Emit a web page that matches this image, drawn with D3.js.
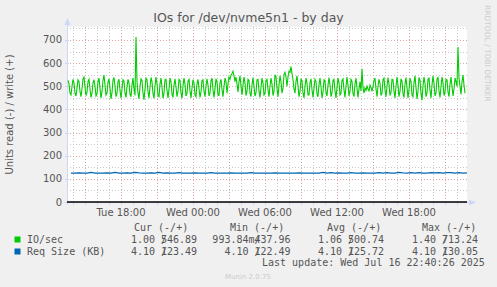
<!DOCTYPE html>
<html><head><meta charset="utf-8">
<script src="https://cdn.jsdelivr.net/npm/d3@7"></script>
<style>
html,body{margin:0;padding:0;background:#f0f0f0;}
svg{display:block;}
text{font-family:"DejaVu Sans",sans-serif;}
.mono{font-family:"DejaVu Sans Mono",monospace;font-size:10px;fill:#555;}
</style></head><body>
<script>
// ---- data ----
const title = "IOs for /dev/nvme5n1 - by day";
const yLabel = "Units read (-) / write (+)";
const yTicks = [0, 100, 200, 300, 400, 500, 600, 700];
const xTickLabels = ["Tue 18:00", "Wed 00:00", "Wed 06:00", "Wed 12:00", "Wed 18:00"];
const xTickTimes = ["2025-07-15T18:00", "2025-07-16T00:00", "2025-07-16T06:00", "2025-07-16T12:00", "2025-07-16T18:00"];
const rangeStart = "2025-07-15T13:30";
const rangeEnd = "2025-07-16T22:50";
const ioStepMin = 5;
const ioWrite = [
525,510,470,462,500,530,515,470,458,492,528,520,478,455,488,532,540,495,460,475,
520,530,488,452,470,515,528,500,458,466,522,535,490,450,478,525,548,505,462,470,
518,532,492,445,472,526,538,500,455,468,520,530,482,448,486,528,522,470,452,498,
530,515,465,455,505,535,490,460,713,520,470,445,500,532,525,470,442,488,535,528,
478,450,495,538,520,468,448,500,540,512,460,455,510,535,495,448,470,528,530,482,
450,488,535,520,465,452,505,532,498,455,478,530,525,470,448,500,535,510,458,468,
522,530,480,450,492,528,515,462,455,510,530,490,452,475,525,528,478,455,500,532,
505,458,470,525,535,485,452,490,532,520,462,460,515,530,488,455,498,535,520,470,
510,540,530,548,555,565,545,520,540,510,475,520,545,500,462,505,540,515,460,478,
530,525,470,455,505,538,500,458,472,528,530,480,452,495,535,515,462,468,525,530,
485,455,500,535,510,460,478,550,540,490,455,505,545,520,470,490,550,560,540,500,
540,565,560,585,555,530,490,470,520,545,500,455,478,530,525,470,450,498,535,512,
462,462,515,532,485,452,490,530,520,465,455,508,535,498,450,475,528,525,472,458,
505,538,505,455,470,525,530,480,450,495,535,515,462,468,525,532,485,452,500,540,
505,458,478,530,522,468,455,510,535,492,452,488,520,480,575,495,470,492,482,500,
488,480,505,495,478,500,525,535,488,455,500,530,512,460,470,528,535,485,455,500,
538,510,460,472,530,528,478,450,500,540,505,455,478,532,522,468,452,510,538,495,
450,485,535,520,462,455,515,545,495,445,480,538,525,468,440,500,540,512,455,470,
530,535,482,450,505,545,512,458,470,532,538,480,452,498,540,515,460,475,530,528,
475,455,508,540,500,458,488,535,520,500,670,535,500,465,520,548,505,470
];
const reqStepMin = 20;
const reqWrite = [
125,125,126,125,125,128,125,125,125,126,125,128,125,125,126,125,128,126,125,125,
126,125,128,125,126,125,125,127,125,125,125,126,125,125,125,127,125,125,125,125,
126,125,125,125,125,127,125,125,125,125,125,126,125,125,125,125,125,126,125,125,
125,125,125,128,125,127,125,126,125,125,127,125,125,126,125,125,125,127,125,127,
125,125,128,126,125,127,125,127,125,125,127,126,127,125,127,127,125,127,125,126
];
const seriesNames = ["IO/sec", "Req Size (KB)"];
const seriesColors = ["#00cc00", "#0066b3"];
const legendHeaders = ["Cur (-/+)", "Min (-/+)", "Avg (-/+)", "Max (-/+)"];
const legendNeg = [["1.00", "993.84m", "1.06", "1.40"], ["4.10", "4.10", "4.10", "4.10"]];
const legendPos = [["546.89", "437.96", "500.74", "713.24"], ["123.49", "122.49", "125.72", "130.05"]];
const lastUpdate = "Last update: Wed Jul 16 22:40:26 2025";
const footer = "Munin 2.0.75";
const sideText = "RRDTOOL / TOBI OETIKER";

// ---- layout ----
const W = 497, H = 287;
const plot = {l: 67, r: 467, t: 27, b: 202};
const svg = d3.select("body").append("svg").attr("width", W).attr("height", H);
svg.append("rect").attr("width", W).attr("height", H).attr("fill", "#f0f0f0");

const x = d3.scaleTime().domain([new Date(rangeStart), new Date(rangeEnd)]).range([plot.l, plot.r]);
const y = d3.scaleLinear().domain([0, 756]).range([plot.b, plot.t]);

svg.append("rect").attr("x", plot.l).attr("y", plot.t).attr("width", plot.r - plot.l).attr("height", plot.b - plot.t).attr("fill", "#fff");

const g = svg.append("g");
const minorColor = "#c8c8c8", majorColor = "#e0a4a4";
const hours = x.ticks(d3.timeHour.every(1));
hours.forEach(h => {
  const px = Math.round(x(h)) + 0.5;
  const major = h.getHours() % 3 === 0;
  g.append("line").attr("x1", px).attr("x2", px).attr("y1", plot.t).attr("y2", plot.b)
    .attr("stroke", major ? majorColor : minorColor).attr("stroke-dasharray", "1,2");
});
d3.range(50, 756, 50).forEach(v => {
  const py = Math.round(y(v)) + 0.5;
  const major = v % 100 === 0;
  g.append("line").attr("x1", plot.l).attr("x2", plot.r).attr("y1", py).attr("y2", py)
    .attr("stroke", major ? majorColor : minorColor).attr("stroke-dasharray", "1,2");
});

// axes lines
const axisColor = "#cfd6f8";
svg.append("line").attr("x1", plot.l + 0.5).attr("x2", plot.l + 0.5).attr("y1", plot.b + 3).attr("y2", plot.t - 4).attr("stroke", axisColor);
svg.append("path").attr("d", `M${plot.l - 2.5},${plot.t - 2} L${plot.l + 0.5},${plot.t - 9} L${plot.l + 3.5},${plot.t - 2} Z`).attr("fill", axisColor);
svg.append("line").attr("x1", plot.l - 3).attr("x2", plot.r + 4).attr("y1", plot.b + 0.5).attr("y2", plot.b + 0.5).attr("stroke", axisColor);
svg.append("path").attr("d", `M${plot.r + 2},${plot.b - 2.5} L${plot.r + 9},${plot.b + 0.5} L${plot.r + 2},${plot.b + 3.5} Z`).attr("fill", axisColor);
yTicks.forEach(v => {
  const py = Math.round(y(v)) + 0.5;
  svg.append("line").attr("x1", plot.l - 2).attr("x2", plot.l + 2).attr("y1", py).attr("y2", py).attr("stroke", axisColor);
});
hours.forEach(h => {
  const px = Math.round(x(h)) + 0.5;
  svg.append("line").attr("x1", px).attr("x2", px).attr("y1", plot.b).attr("y2", plot.b + 3).attr("stroke", axisColor);
});

// y labels
svg.selectAll(".yt").data(yTicks).enter().append("text")
  .attr("x", plot.l - 5).attr("y", d => y(d) + 3.5).attr("text-anchor", "end")
  .attr("font-size", 10).attr("fill", "#555").text(d => d);
// x labels
svg.selectAll(".xt").data(xTickLabels).enter().append("text")
  .attr("x", (d, i) => x(new Date(xTickTimes[i]))).attr("y", 216).attr("text-anchor", "middle")
  .attr("font-size", 10).attr("fill", "#555").text(d => d);

// data lines
svg.append("clipPath").attr("id", "clp").append("rect")
  .attr("x", plot.l).attr("y", plot.t - 1).attr("width", plot.r - plot.l).attr("height", plot.b - plot.t + 1);
const t0 = new Date(rangeStart).getTime();
const ioLine = d3.line().x((d, i) => x(new Date(t0 + (i + 1) * ioStepMin * 60000))).y(d => y(d));
const reqLine = d3.line().x((d, i) => x(new Date(t0 + (i + 1) * reqStepMin * 60000))).y(d => y(d));
const dg = svg.append("g").attr("clip-path", "url(#clp)");
dg.append("path").attr("d", reqLine(reqWrite)).attr("fill", "none").attr("stroke", seriesColors[1]).attr("stroke-width", 1.2);
dg.append("path").attr("d", ioLine(ioWrite)).attr("fill", "none").attr("stroke", seriesColors[0]).attr("stroke-width", 1.1);
svg.append("line").attr("x1", plot.l).attr("x2", plot.r).attr("y1", y(0)).attr("y2", y(0)).attr("stroke", "#000").attr("stroke-width", 1.6);

// title
svg.append("text").attr("x", W / 2).attr("y", 22).attr("text-anchor", "middle")
  .attr("font-size", 12.5).attr("fill", "#555").text(title);
// y label
svg.append("text").attr("transform", `translate(13,${(plot.t + plot.b) / 2}) rotate(-90)`)
  .attr("text-anchor", "middle").attr("font-size", 10).attr("fill", "#555").text(yLabel);
// side text
svg.append("text").attr("transform", `translate(485,5) rotate(90)`)
  .attr("text-anchor", "start").attr("font-size", 7.5).attr("fill", "#ccc").text(sideText);

// legend
const colStart = [119, 212.5, 306, 400];
const headerX = [134, 230, 327, 422];
legendHeaders.forEach((h, i) => svg.append("text").attr("class", "mono").attr("x", headerX[i]).attr("y", 231).text(h));
const rowY = [243, 255];
seriesNames.forEach((n, r) => {
  svg.append("rect").attr("x", 14.5).attr("y", rowY[r] - 6.5).attr("width", 6).attr("height", 6)
    .attr("fill", seriesColors[r]);
  svg.append("text").attr("class", "mono").attr("x", 27).attr("y", rowY[r]).text(n);
  colStart.forEach((cs, c) => {
    const neg = legendNeg[r][c];
    const hasUnit = /[a-zA-Z]$/.test(neg);
    // one text element per cell: negative value, overstruck slash, positive value
    const t = svg.append("text").attr("class", "mono").attr("y", rowY[r]);
    t.append("tspan").attr("x", cs + (hasUnit ? 42 : 36) - neg.length * 6.02).text(neg);
    t.append("tspan").attr("x", cs + 42).text("/");
    t.append("tspan").attr("x", cs + 42).text(legendPos[r][c]);
  });
});
svg.append("text").attr("class", "mono").attr("x", 262).attr("y", 266).text(lastUpdate);
svg.append("text").attr("x", 248).attr("y", 279).attr("text-anchor", "middle")
  .attr("font-size", 7).attr("fill", "#ccc").text(footer);
</script>
</body></html>
